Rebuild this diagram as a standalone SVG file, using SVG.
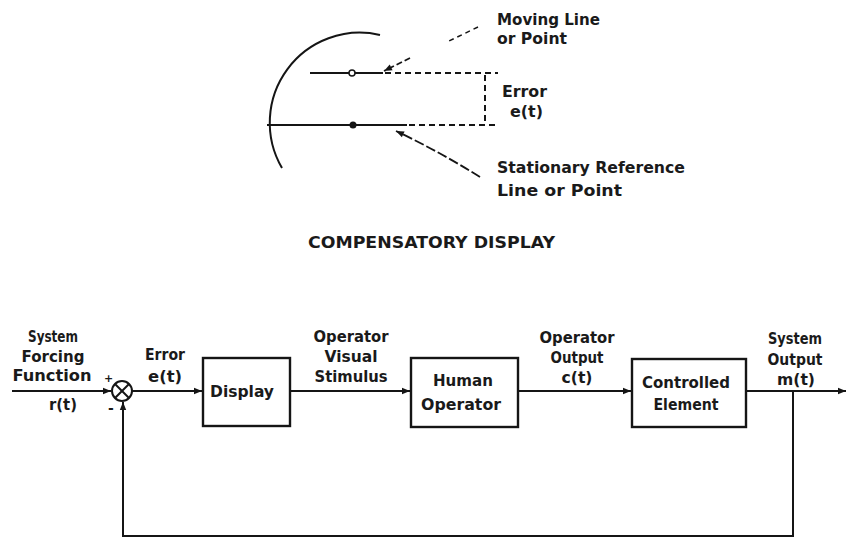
<svg xmlns="http://www.w3.org/2000/svg" width="846" height="540" viewBox="0 0 846 540">
<defs>
<style>
.t{font-family:"DejaVu Sans","Liberation Sans",sans-serif;font-size:16px;font-weight:bold;fill:#1a1a1a;text-anchor:middle}
.ts{font-family:"DejaVu Sans","Liberation Sans",sans-serif;font-size:16px;font-weight:bold;fill:#1a1a1a}
.ln{stroke:#151515;stroke-width:2;fill:none}
.dl{stroke:#151515;stroke-width:2;fill:none;stroke-dasharray:6 4}
.box{stroke:#151515;stroke-width:2.4;fill:#fff}
</style>
<marker id="ah" viewBox="0 0 10 10" refX="10" refY="5" markerWidth="10" markerHeight="8" markerUnits="userSpaceOnUse" orient="auto">
<path d="M0,1 L10,5 L0,9 z" fill="#151515"/>
</marker>
</defs>
<rect width="846" height="540" fill="#fff"/>

<g id="compensatory-display">
<path class="ln" d="M380,35 A90,90 0 0 0 282,168"/>
<line class="ln" x1="310" y1="73" x2="383" y2="73"/>
<line class="dl" x1="385" y1="73" x2="498" y2="73"/>
<circle cx="352" cy="73" r="3" fill="#fff" stroke="#151515" stroke-width="1.5"/>
<line class="ln" x1="267" y1="125" x2="407" y2="125"/>
<line class="dl" x1="409" y1="125" x2="498" y2="125"/>
<circle cx="353" cy="125" r="3.5" fill="#151515"/>
<line class="dl" x1="485" y1="75" x2="485" y2="124"/>
<line x1="478" y1="27" x2="447" y2="42" stroke="#151515" stroke-width="1.5" stroke-dasharray="5 4"/>
<line x1="410" y1="58" x2="384" y2="71" stroke="#151515" stroke-width="1.8" stroke-dasharray="6 3" marker-end="url(#ah)"/>
<path d="M480,177 Q440,152 396,131" stroke="#151515" stroke-width="1.8" fill="none" stroke-dasharray="10 3" marker-end="url(#ah)"/>
<text class="ts" x="497" y="25" textLength="103" lengthAdjust="spacingAndGlyphs">Moving Line</text>
<text class="ts" x="497" y="44" textLength="70" lengthAdjust="spacingAndGlyphs">or Point</text>
<text class="ts" x="502" y="97" textLength="45" lengthAdjust="spacingAndGlyphs">Error</text>
<text class="ts" x="510" y="117" textLength="33" lengthAdjust="spacingAndGlyphs">e(t)</text>
<text class="ts" x="497" y="173" textLength="188" lengthAdjust="spacingAndGlyphs">Stationary Reference</text>
<text class="ts" x="497" y="196" textLength="125" lengthAdjust="spacingAndGlyphs">Line or Point</text>
<text class="ts" x="308" y="248" textLength="247" lengthAdjust="spacingAndGlyphs">COMPENSATORY DISPLAY</text>
</g>

<g id="connectors">
<line class="ln" x1="12" y1="391" x2="111" y2="391" marker-end="url(#ah)"/>
<line class="ln" x1="132" y1="391" x2="202" y2="391" marker-end="url(#ah)"/>
<line class="ln" x1="290" y1="391" x2="410" y2="391" marker-end="url(#ah)"/>
<line class="ln" x1="518" y1="391" x2="631" y2="391" marker-end="url(#ah)"/>
<line class="ln" x1="746" y1="391" x2="846" y2="391" marker-end="url(#ah)"/>
<polyline class="ln" points="793,391 793,536 123,536 123,402" marker-end="url(#ah)"/>
</g>

<g id="summing-junction">
<circle cx="122" cy="391" r="10" fill="#fff" stroke="#151515" stroke-width="2"/>
<line class="ln" x1="115" y1="384" x2="129" y2="398"/>
<line class="ln" x1="129" y1="384" x2="115" y2="398"/>
<text class="ts" x="104" y="382" style="font-size:11px">+</text>
<text class="ts" x="108" y="413" style="font-size:14px">-</text>
</g>

<g id="input-label">
<text class="t" x="53" y="342" textLength="50" lengthAdjust="spacingAndGlyphs">System</text>
<text class="t" x="53" y="362" textLength="63" lengthAdjust="spacingAndGlyphs">Forcing</text>
<text class="t" x="52" y="381" textLength="79" lengthAdjust="spacingAndGlyphs">Function</text>
<text class="t" x="63" y="410" textLength="28" lengthAdjust="spacingAndGlyphs">r(t)</text>
</g>

<g id="error-label">
<text class="t" x="165" y="360" textLength="40" lengthAdjust="spacingAndGlyphs">Error</text>
<text class="t" x="165" y="382" textLength="34" lengthAdjust="spacingAndGlyphs">e(t)</text>
</g>

<g id="display">
<rect class="box" x="203" y="358" width="87" height="68"/>
<text class="t" x="242" y="397" textLength="64" lengthAdjust="spacingAndGlyphs">Display</text>
</g>

<g id="stimulus-label">
<text class="t" x="351" y="342" textLength="75" lengthAdjust="spacingAndGlyphs">Operator</text>
<text class="t" x="351" y="362" textLength="53" lengthAdjust="spacingAndGlyphs">Visual</text>
<text class="t" x="351" y="382" textLength="73" lengthAdjust="spacingAndGlyphs">Stimulus</text>
</g>

<g id="human-operator">
<rect class="box" x="411" y="358" width="107" height="69"/>
<text class="t" x="463" y="386" textLength="60" lengthAdjust="spacingAndGlyphs">Human</text>
<text class="t" x="461" y="410" textLength="80" lengthAdjust="spacingAndGlyphs">Operator</text>
</g>

<g id="operator-output-label">
<text class="t" x="577" y="343" textLength="75" lengthAdjust="spacingAndGlyphs">Operator</text>
<text class="t" x="577" y="363" textLength="53" lengthAdjust="spacingAndGlyphs">Output</text>
<text class="t" x="577" y="383" textLength="31" lengthAdjust="spacingAndGlyphs">c(t)</text>
</g>

<g id="controlled-element">
<rect class="box" x="632" y="359" width="114" height="68"/>
<text class="t" x="686" y="388" textLength="88" lengthAdjust="spacingAndGlyphs">Controlled</text>
<text class="t" x="686" y="410" textLength="65" lengthAdjust="spacingAndGlyphs">Element</text>
</g>

<g id="system-output-label">
<text class="t" x="795" y="344" textLength="54" lengthAdjust="spacingAndGlyphs">System</text>
<text class="t" x="795" y="365" textLength="55" lengthAdjust="spacingAndGlyphs">Output</text>
<text class="t" x="796" y="385" textLength="38" lengthAdjust="spacingAndGlyphs">m(t)</text>
</g>
</svg>
